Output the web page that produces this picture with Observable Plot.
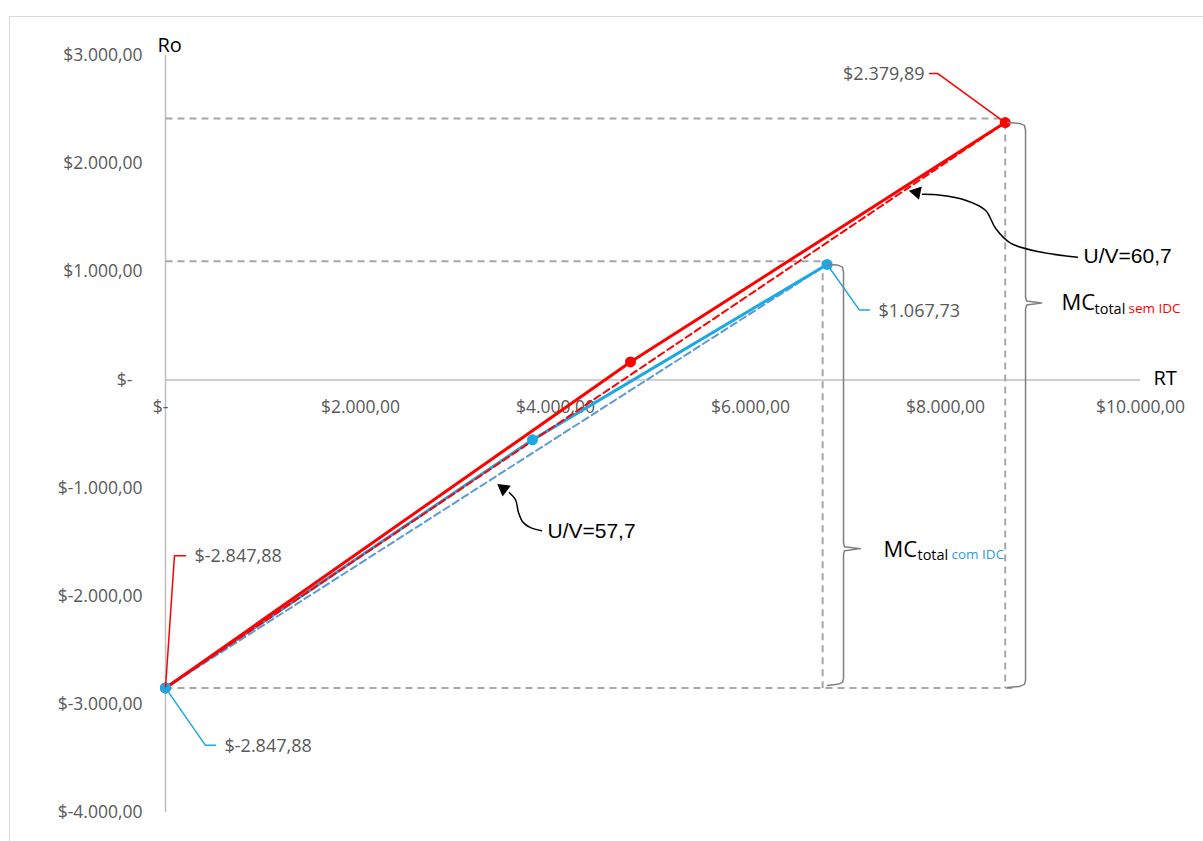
<!DOCTYPE html>
<html>
<head>
<meta charset="utf-8">
<script src="https://cdn.jsdelivr.net/npm/d3@7"></script>
<script src="https://cdn.jsdelivr.net/npm/@observablehq/plot@0.6"></script>
<style>
  html, body { margin: 0; padding: 0; background: #fff; overflow: hidden; }
  #wrap { position: relative; width: 1203px; height: 841px; overflow: hidden; }
  #chart { position: absolute; left: 0; top: 0; }
  #border { position: absolute; left: 9px; top: 16px; width: 1400px; height: 1000px;
            border-top: 1.5px solid #d9d9d9; border-left: 1.5px solid #d9d9d9; pointer-events: none; }
</style>
</head>
<body>
<div id="wrap"><div id="chart"></div><div id="border"></div></div>
<script>
// Receita total (RT) x resultado operacional (Ro), sem e com IDC
const rtSem = [0, 4769, 8612.5];
const roSem = [-2847.88, 166, 2379.89];
const rtCom = [0, 3764, 6786];
const roCom = [-2847.88, -554, 1067.73];
const uvSem = "U/V=60,7";
const uvCom = "U/V=57,7";
const xTicks = [0, 2000, 4000, 6000, 8000, 10000];
const yTicks = [3000, 2000, 1000, 0, -1000, -2000, -3000, -4000];

// Reference guides (dashed grey), in data units
const guides = [
  {x1: 0, y1: 2418, x2: 8612.5, y2: 2418},
  {x1: 8612.5, y1: 2379.89, x2: 8612.5, y2: -2847.88},
  {x1: 0, y1: 1098, x2: 6786, y2: 1098},
  {x1: 6740, y1: 1098, x2: 6740, y2: -2847.88},
  {x1: 0, y1: -2847.88, x2: 8720, y2: -2847.88}
];

// Curly braces for total contribution margin
const braceSem = [[8636,2380],[8759,2372],[8810,2354],[8821,2308],[8821,766],[8831,729],[8985,711],
                  [8831,692],[8821,655],[8821,-2779],[8810,-2815],[8759,-2834],[8636,-2843]];
const braceCom = [[6790,1068],[6892,1062],[6944,1043],[6954,997],[6954,-1505],[6964,-1542],[7128,-1560],
                  [6964,-1579],[6954,-1615],[6954,-2760],[6944,-2797],[6892,-2815],[6790,-2825]];

// Curved callout arrows
const arrowSem = [[9354,1135],[8974,1182],[8667,1265],[8513,1403],[8410,1569],[8205,1662],[7949,1708],[7764,1717]];
const arrowCom = [[3856,-1394],[3744,-1366],[3662,-1311],[3621,-1228],[3590,-1108],[3528,-1043]];
const heads = [{x: 7703, y: 1735, a: -78}, {x: 3467, y: -1006, a: -53}];

// Leader lines for value labels
const leaders = [
  {c: "#ff0000", p: [[rtSem[2], roSem[2]], [7918, 2834], [7836, 2834]], v: roSem[2], side: "end"},
  {c: "#1ca8e3", p: [[rtCom[2], roCom[2]], [7118, 646], [7221, 646]], v: roCom[2], side: "start"},
  {c: "#ff0000", p: [[rtSem[0], roSem[0]], [92, -1625], [205, -1625]], v: roSem[0], side: "start"},
  {c: "#1ca8e3", p: [[rtCom[0], roCom[0]], [410, -3379], [513, -3379]], v: roCom[0], side: "start"}
];

const fmt = v => {
  if (v === 0) return "$-\u2007";
  const [i, d] = Math.abs(v).toFixed(2).split(".");
  return "$" + (v < 0 ? "-" : "") + i.replace(/\B(?=(\d{3})+(?!\d))/g, ".") + "," + d;
};

const toPts = (xs, ys) => xs.map((x, i) => ({x, y: ys[i]}));
const sem = toPts(rtSem, roSem);
const com = toPts(rtCom, roCom);
const semTrend = [sem[0], sem[sem.length - 1]];
const comTrend = [com[0], com[com.length - 1]];
const asPts = (arr, k) => arr.map(([x, y]) => ({x, y, k}));

const leaderPts = leaders.flatMap((l, i) => l.p.map(([x, y]) => ({x, y, k: i, c: l.c})));
const leaderLabels = leaders.map(l => ({x: l.p[2][0], y: l.p[2][1], t: fmt(l.v), side: l.side}));

const RED = "#ff0000", BLUE = "#1ca8e3", BLUE_D = "#5b9bd5", GREY = "#a6a6a6";
const BRACE = "#7f7f7f";
const sans = "'Open Sans', sans-serif";
const arial = "'Liberation Sans', Arial, sans-serif";

const chart = Plot.plot({
  width: 1203,
  height: 841,
  marginLeft: 165,
  marginRight: 63,
  marginTop: 55,
  marginBottom: 29,
  x: {domain: [0, 10000], axis: null},
  y: {domain: [-4000, 3000]},
  style: {fontFamily: sans, fontSize: "17.5px", color: "#595959", background: "#fff", overflow: "visible"},
  marks: [
    // axes
    Plot.ruleY([0], {stroke: "#bfbfbf", strokeWidth: 1.5}),
    Plot.ruleX([0], {stroke: "#bfbfbf", strokeWidth: 1.5}),
    Plot.axisY({ticks: yTicks, tickSize: 0, tickPadding: 23, tickFormat: fmt, fill: "#595959", fontSize: 17.5, label: null}),
    Plot.text(xTicks, {x: d => d, y: 0, dy: 27, text: fmt, fill: "#595959", fontSize: 17.5}),
    Plot.text(["Ro"], {x: 0, y: 3000, dx: -8, dy: -10, textAnchor: "start", fill: "#000", fontSize: 20}),
    Plot.text(["RT"], {x: 10000, y: 0, dx: 13, dy: -1, textAnchor: "start", fill: "#000", fontSize: 20}),

    // guides
    Plot.link(guides, {x1: "x1", y1: "y1", x2: "x2", y2: "y2", stroke: GREY, strokeWidth: 2, strokeDasharray: "7,5"}),

    // series
    Plot.line(comTrend, {x: "x", y: "y", stroke: BLUE_D, strokeWidth: 2, strokeDasharray: "7,4"}),
    Plot.line(com, {x: "x", y: "y", stroke: BLUE, strokeWidth: 3}),
    Plot.line(semTrend, {x: "x", y: "y", stroke: RED, strokeWidth: 2, strokeDasharray: "7,4"}),
    Plot.line(sem, {x: "x", y: "y", stroke: RED, strokeWidth: 3}),
    Plot.dot(sem, {x: "x", y: "y", r: 5.5, fill: RED}),
    Plot.dot(com, {x: "x", y: "y", r: 5.5, fill: BLUE}),

    // value labels
    Plot.line(leaderPts, {x: "x", y: "y", z: "k", stroke: "c", strokeWidth: 1.5}),
    Plot.text(leaderLabels.filter(d => d.side === "end"), {x: "x", y: "y", text: "t", textAnchor: "end", dx: -5, dy: 1, fill: "#595959", fontSize: 18}),
    Plot.text(leaderLabels.filter(d => d.side === "start"), {x: "x", y: "y", text: "t", textAnchor: "start", dx: 9, dy: 1, fill: "#595959", fontSize: 18}),

    // braces
    Plot.line(asPts(braceSem, "s"), {x: "x", y: "y", stroke: BRACE, strokeWidth: 1.5}),
    Plot.line(asPts(braceCom, "c"), {x: "x", y: "y", stroke: BRACE, strokeWidth: 1.5}),

    // callouts
    Plot.line(asPts(arrowSem, "s"), {x: "x", y: "y", stroke: "#000", strokeWidth: 1.5, curve: "catmull-rom"}),
    Plot.line(asPts(arrowCom, "c"), {x: "x", y: "y", stroke: "#000", strokeWidth: 1.5, curve: "catmull-rom"}),
    Plot.dot(heads, {x: "x", y: "y", rotate: "a", symbol: "triangle2", r: 6.5, fill: "#000"}),
    Plot.text([uvSem], {x: arrowSem[0][0], y: arrowSem[0][1], dx: 6, dy: -1, textAnchor: "start", fill: "#000", fontFamily: arial, fontSize: 21}),
    Plot.text([uvCom], {x: arrowCom[0][0], y: arrowCom[0][1], dx: 6, dy: 1, textAnchor: "start", fill: "#000", fontFamily: arial, fontSize: 21}),

    // MC total labels
    Plot.text(["MC"], {x: braceSem[6][0], y: braceSem[6][1], dx: 20, dy: 0, textAnchor: "start", fill: "#000", fontSize: 22}),
    Plot.text(["total"], {x: braceSem[6][0], y: braceSem[6][1], dx: 53, dy: 6, textAnchor: "start", fill: "#000", fontSize: 14.5}),
    Plot.text(["sem IDC"], {x: braceSem[6][0], y: braceSem[6][1], dx: 87, dy: 6, textAnchor: "start", fill: RED, fontSize: 13.5}),
    Plot.text(["MC"], {x: braceCom[6][0], y: braceCom[6][1], dx: 23, dy: 1, textAnchor: "start", fill: "#000", fontSize: 22}),
    Plot.text(["total"], {x: braceCom[6][0], y: braceCom[6][1], dx: 57, dy: 6.5, textAnchor: "start", fill: "#000", fontSize: 14.5}),
    Plot.text(["com IDC"], {x: braceCom[6][0], y: braceCom[6][1], dx: 91, dy: 6.5, textAnchor: "start", fill: "#3399dd", fontSize: 13.5})
  ]
});
document.getElementById("chart").appendChild(chart);
</script>
</body>
</html>
